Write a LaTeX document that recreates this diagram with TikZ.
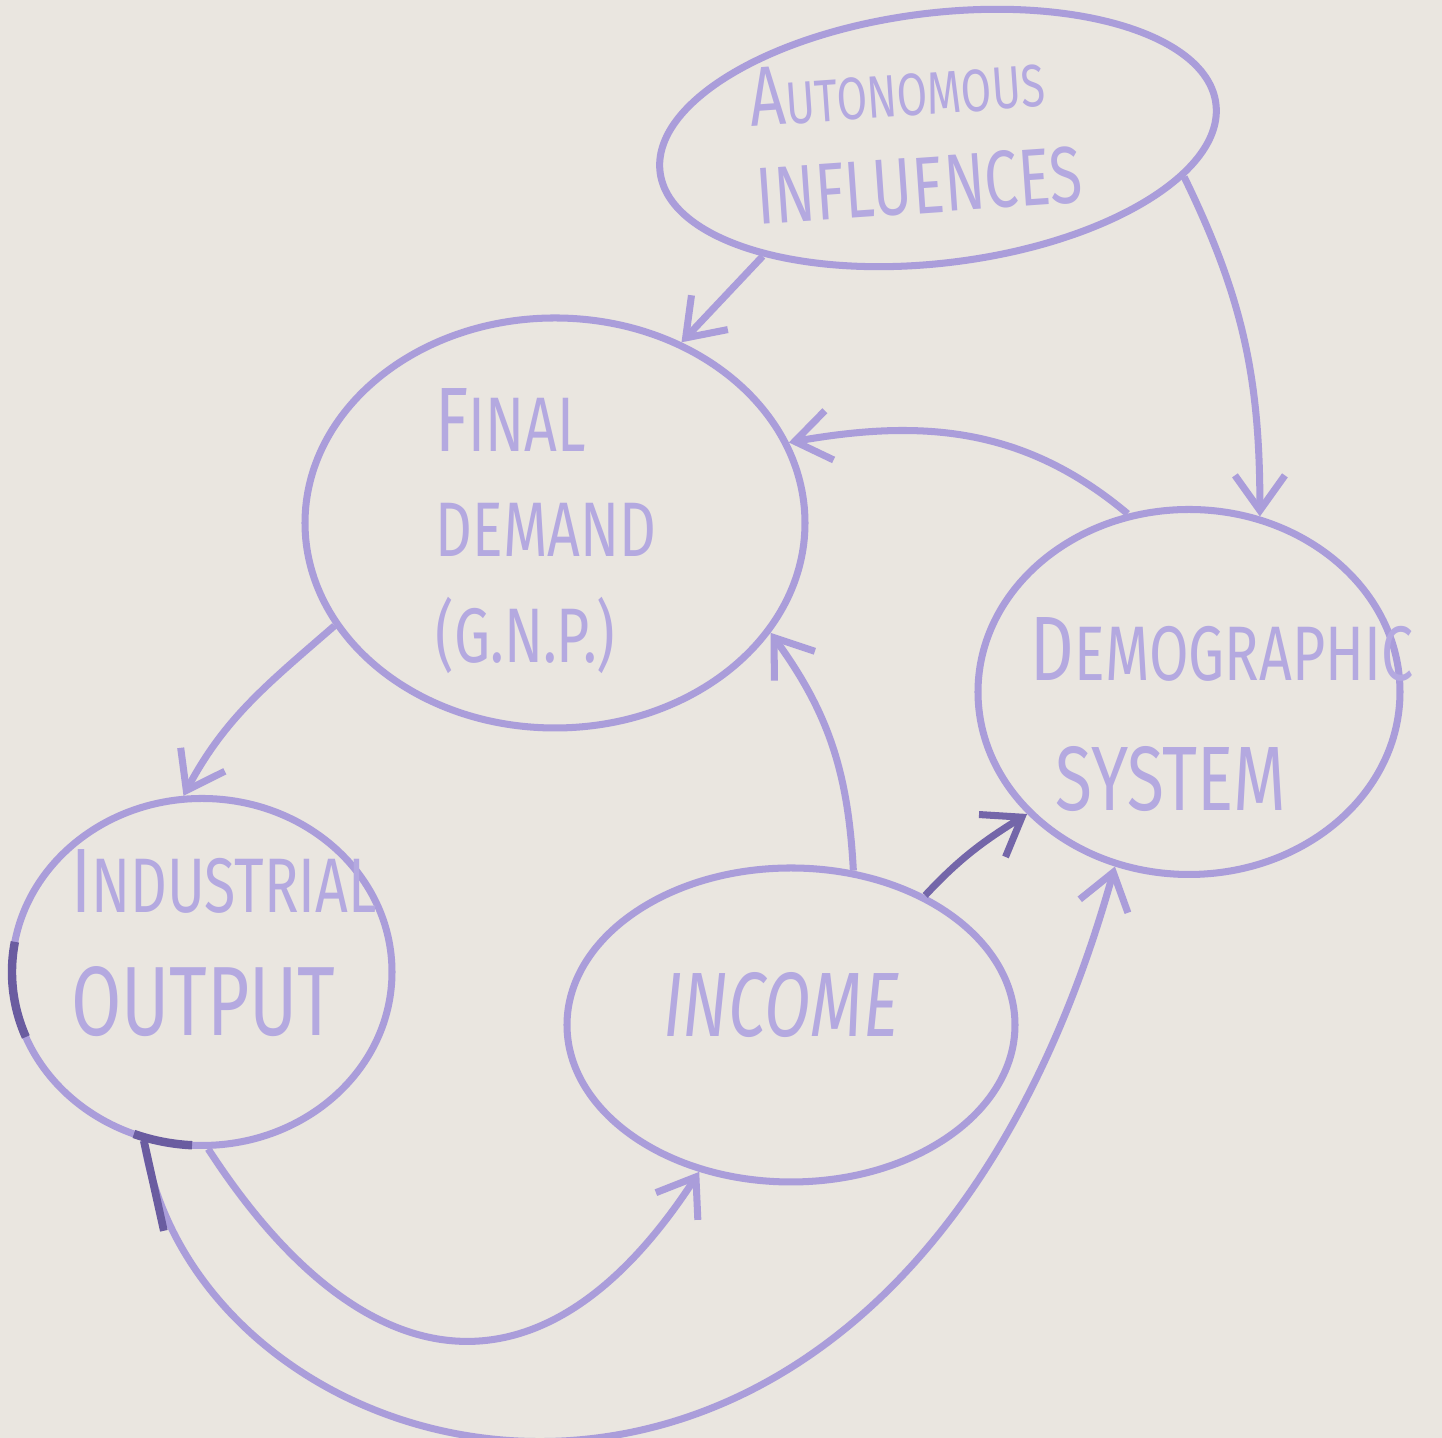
\documentclass[tikz,border=0pt]{standalone}
\usepackage{fontspec}
\newfontfamily\handfont[FakeStretch=0.74]{Fira Sans}
\usetikzlibrary{shapes.geometric,arrows.meta}
\definecolor{paper}{RGB}{234,230,224}
\definecolor{ink}{RGB}{170,157,218}
\definecolor{inktext}{RGB}{180,169,224}
\definecolor{darkink}{RGB}{106,92,160}
\tikzset{
  blob/.style={ellipse, draw=ink, line width=2pt, inner sep=0pt},
  hand/.style={text=inktext, inner sep=0pt, font=\handfont\fontsize{22}{27}\selectfont},
  arr/.style={draw=ink, line width=2pt, -{Straight Barb[length=3.5mm,width=5mm]}},
}
\begin{document}
\begin{tikzpicture}
\fill[paper] (0,0) rectangle (14.42,14.38);
\useasboundingbox (0,0) rectangle (14.42,14.38);

\node[blob, minimum width=5.6cm, minimum height=2.5cm, rotate=7] (auto) at (9.38,13.00) {};
\node[blob, minimum width=5.0cm, minimum height=4.1cm] (demand) at (5.55,9.15) {};
\node[blob, minimum width=4.22cm, minimum height=3.65cm] (demo) at (11.89,7.46) {};
\node[blob, minimum width=3.8cm, minimum height=3.47cm] (indout) at (2.02,4.66) {};
\node[blob, minimum width=4.48cm, minimum height=3.14cm] (income) at (7.91,4.13) {};

\node[hand, rotate=4, align=left] (autotxt) at (9.16,13.02)
  {{\fontsize{24}{24}\selectfont A}{\fontsize{17}{17}\selectfont UTONOMOUS}\\[1pt]{\fontsize{23}{23}\selectfont INFLUENCES}};
\node[hand, align=left] (demandtxt) at (5.46,9.07)
  {{\fontsize{26}{26}\selectfont F}INAL\\[3pt]DEMAND\\[3pt](G.N.P.)};
\node[hand, align=left] (demotxt) at (12.22,7.23)
  {{\fontsize{26}{26}\selectfont D}EMOGRAPHIC\\[10pt]\hspace{0.25cm}{\fontsize{26}{26}\selectfont SYSTEM}};
\node[hand, align=left] (indouttxt) at (2.24,4.95)
  {{\fontsize{26}{26}\selectfont I}NDUSTRIAL\\[8pt]{\fontsize{28}{28}\selectfont OUTPUT}};
\node[hand, font=\handfont\itshape\fontsize{26}{26}\selectfont] (incometxt) at (7.81,4.33) {INCOME};

\draw[arr] (auto.207) -- (demand.55);
\draw[arr] (auto.344) to[out=-64,in=90] (demo.68);
\draw[arr] (demo.109) to[out=140,in=10] (demand.19);
\draw[arr] (demand.205) to[out=221,in=62] (indout.96);
\draw[arr] (income.68) to[out=93,in=-54] (demand.333);
\draw[arr, draw=darkink!85!ink] (income.44) to[out=47,in=212] (demo.217);
\draw[arr] (indout.272) .. controls (3.61,0.53) and (5.42,0.24) .. (income.238);
\draw[arr] (indout.251) .. controls (2.00,-0.62) and (8.90,-2.32) .. (demo.247);

\draw[darkink, line width=2.4pt] (indout.center) ++(170:1.9 and 1.735)
  arc[start angle=170, end angle=202, x radius=1.9, y radius=1.735];
\draw[darkink, line width=2.4pt] (indout.center) ++(249:1.9 and 1.735)
  arc[start angle=249, end angle=267, x radius=1.9, y radius=1.735];
\draw[darkink, line width=2.2pt] (indout.251) -- ++(0.2,-0.9);
\end{tikzpicture}
\end{document}
